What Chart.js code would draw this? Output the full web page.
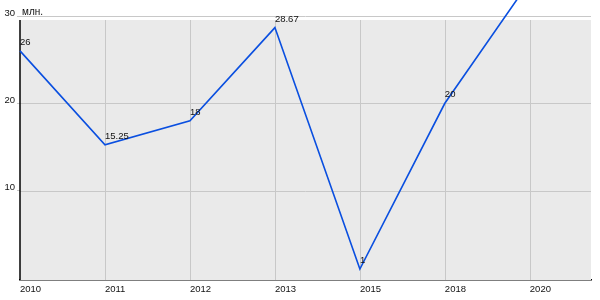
<!DOCTYPE html>
<html lang="ru">
<head>
<meta charset="UTF-8" />
<title>млн.</title>
<script src="https://cdn.jsdelivr.net/npm/chart.js"></script>
<style>
  html, body { margin: 0; padding: 0; background: #fff; }
  #wrap { width: 600px; height: 300px; }
</style>
</head>
<body>
<div id="wrap"><canvas id="chart"></canvas></div>
<script>
// data
const years = ["2010", "2011", "2012", "2013", "2015", "2018", "2020"];
const values = [26, 15.25, 18, 28.67, 1, 20, 34];
const valueLabels = ["26", "15.25", "18", "28.67", "1", "20", "34"];
const yTicks = [10, 20, 30];
const unitLabel = "млн.";

const points = values.map((v, i) => ({ x: i, y: v }));
const FONT = "Arial, 'Liberation Sans', sans-serif";
const GAP = 4; // gray area starts a bit below the top gridline

// gray plot background, gridlines and the left axis line
const plotBg = {
  id: "plotBg",
  beforeDatasetsDraw(chart) {
    const { ctx, chartArea: a, scales } = chart;
    const top = a.top + GAP;
    ctx.save();
    ctx.fillStyle = "#eaeaea";
    ctx.fillRect(a.left, top, a.right - a.left, a.bottom - top);
    ctx.strokeStyle = "#c8c8c8";
    ctx.lineWidth = 1;
    yTicks.forEach(v => {
      const y = Math.round(scales.y.getPixelForValue(v)) + 0.5;
      if (y < top) return;
      ctx.beginPath();
      ctx.moveTo(a.left, y);
      ctx.lineTo(a.right, y);
      ctx.stroke();
    });
    years.forEach((_, i) => {
      if (i === 0) return;
      const x = Math.round(scales.x.getPixelForValue(i)) + 0.5;
      ctx.beginPath();
      ctx.moveTo(x, top);
      ctx.lineTo(x, a.bottom);
      ctx.stroke();
    });
    ctx.strokeStyle = "#000";
    ctx.lineWidth = 1.5;
    ctx.beginPath();
    ctx.moveTo(a.left, top);
    ctx.lineTo(a.left, a.bottom);
    ctx.stroke();
    ctx.restore();
  }
};

// value labels above each point, plus unit label near the top tick
const textLabels = {
  id: "textLabels",
  afterDatasetsDraw(chart) {
    const { ctx } = chart;
    const meta = chart.getDatasetMeta(0);
    ctx.save();
    ctx.font = "9.5px " + FONT;
    ctx.fillStyle = "#111";
    ctx.textAlign = "left";
    ctx.textBaseline = "alphabetic";
    meta.data.forEach((pt, i) => {
      ctx.fillText(valueLabels[i], pt.x, pt.y - 6);
    });
    ctx.font = "10px " + FONT;
    const y30 = chart.scales.y.getPixelForValue(30);
    ctx.fillText(unitLabel, chart.chartArea.left + 2, y30 - 1);
    ctx.restore();
  }
};

new Chart(document.getElementById("chart"), {
  type: "line",
  data: {
    datasets: [{
      data: points,
      borderColor: "#0a4fe0",
      borderWidth: 1.6,
      pointRadius: 0,
      tension: 0,
      fill: false,
      clip: false
    }]
  },
  options: {
    responsive: true,
    maintainAspectRatio: false,
    animation: false,
    layout: { padding: { top: 16, right: 9, left: 0, bottom: 0 } },
    plugins: { legend: { display: false }, tooltip: { enabled: false } },
    scales: {
      x: {
        type: "linear",
        min: 0,
        max: 6.72,
        afterFit: s => { s.height = 20; },
        afterBuildTicks: s => { s.ticks = years.map((_, i) => ({ value: i })); },
        ticks: {
          autoSkip: false,
          align: "start",
          maxRotation: 0,
          padding: 4,
          color: "#111",
          font: { family: FONT, size: 9.5 },
          callback: v => years[v] ?? ""
        },
        grid: { display: false, drawTicks: false },
        border: { color: "#000", width: 1.5 }
      },
      y: {
        min: -0.25,
        max: 30,
        afterFit: s => { s.width = 20; },
        afterBuildTicks: s => { s.ticks = yTicks.map(v => ({ value: v })); },
        ticks: {
          padding: 2,
          labelOffset: -3,
          color: "#111",
          font: { family: FONT, size: 9.5 }
        },
        grid: {
          color: ctx => ctx.tick && ctx.tick.value === 30 ? "#c8c8c8" : "rgba(0,0,0,0)",
          tickColor: "#c8c8c8",
          lineWidth: 1,
          tickLength: 3
        },
        border: { display: false }
      }
    }
  },
  plugins: [plotBg, textLabels]
});
</script>
</body>
</html>
